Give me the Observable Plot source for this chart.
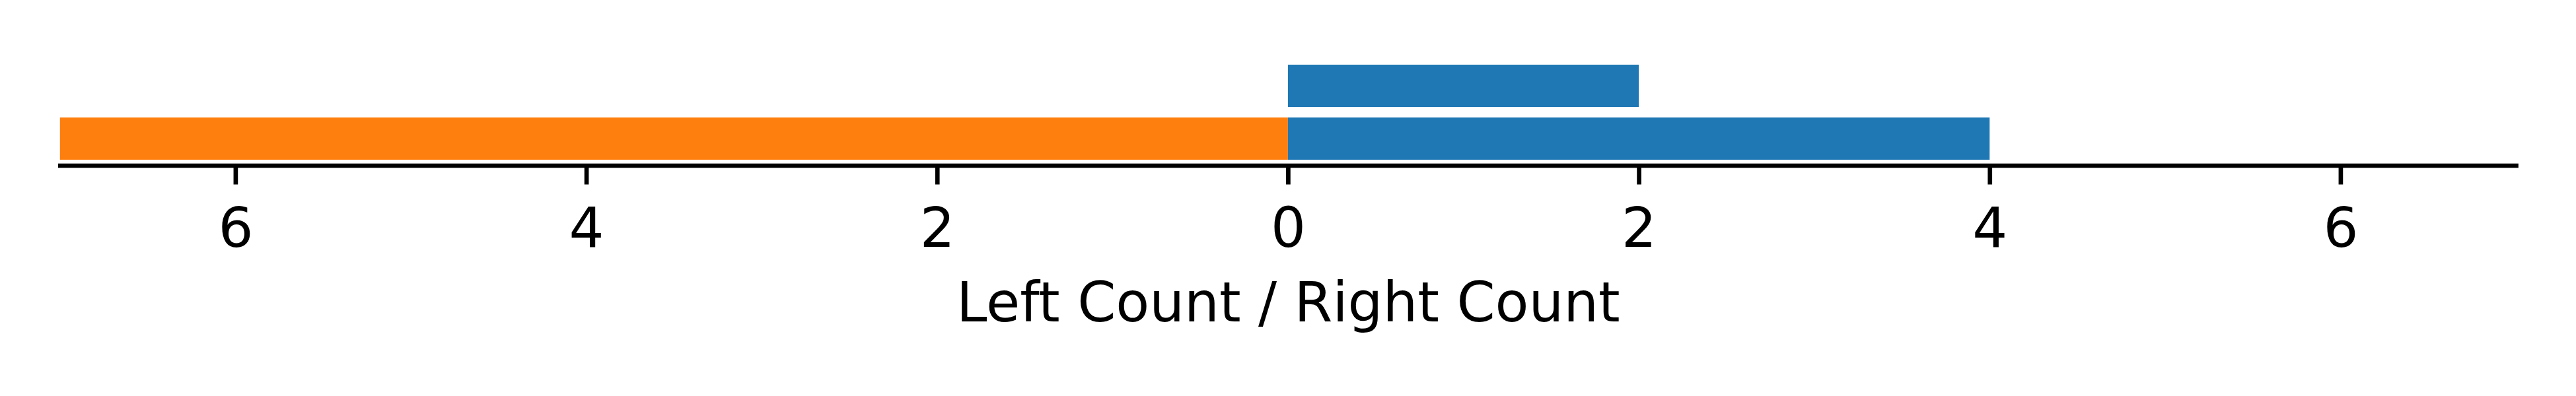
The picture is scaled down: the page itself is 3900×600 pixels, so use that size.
<!DOCTYPE html>
<html><head><meta charset="utf-8">
<script src="https://cdn.jsdelivr.net/npm/d3@7"></script>
<script src="https://cdn.jsdelivr.net/npm/@observablehq/plot@0.6"></script>
<style>body{margin:0;background:#fff}</style>
</head><body><div id="chart"></div>
<script>
const rows = ["lower", "upper"];
const leftCounts = [7, 0];
const rightCounts = [4, 2];
const xTicks = [-6, -4, -2, 0, 2, 4, 6];
const axisLabel = "Left Count / Right Count";
const leftColor = "#ff7f0e";
const rightColor = "#1f77b4";

const data = rows.map((r, i) => ({row: r, left: leftCounts[i], right: rightCounts[i]}));

const chart = Plot.plot({
  width: 3900, height: 600,
  marginLeft: 90.8, marginRight: 91, marginTop: 89.7, marginBottom: 349.5,
  style: {fontFamily: "DejaVu Sans", fontSize: "83.3px", background: "#fff", color: "#000"},
  x: {domain: [-7, 7]},
  y: {domain: ["upper", "lower"], paddingInner: 0.2, paddingOuter: 0.0926, axis: null},
  marks: [
    Plot.barX(data, {y: "row", x1: d => -d.left, x2: 0, fill: leftColor}),
    Plot.barX(data, {y: "row", x1: 0, x2: "right", fill: rightColor}),
    Plot.frame({anchor: "bottom", stroke: "#000", strokeWidth: 6.67, strokeLinecap: "square"}),
    Plot.axisX({ticks: xTicks, tickFormat: d => Math.abs(d), tickSize: 29, tickPadding: 34.5, strokeWidth: 6.67, label: null}),
    Plot.text([axisLabel], {frameAnchor: "bottom", dy: 209.6, fontSize: 83.3, lineAnchor: "middle", text: d => d, fill: "#000"})
  ]
});
document.getElementById("chart").appendChild(chart);
</script>
</body></html>
